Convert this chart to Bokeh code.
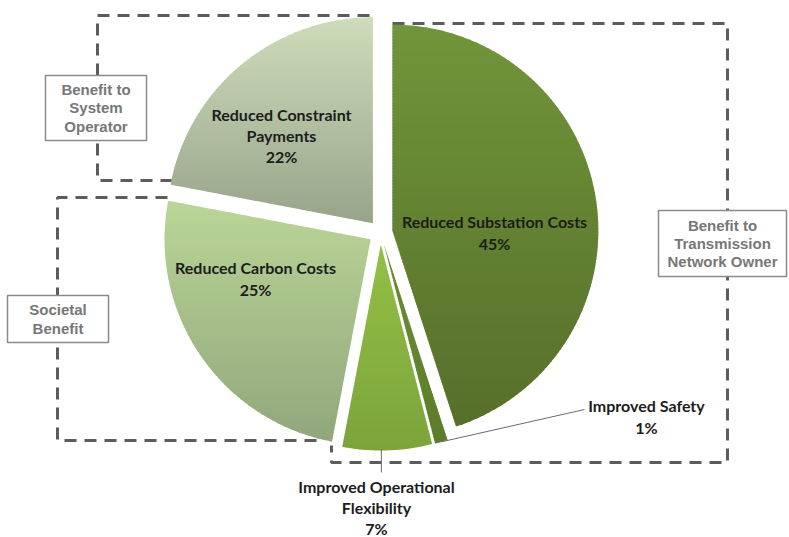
import numpy as np
from bokeh.plotting import figure
from bokeh.models import Range1d
from bokeh.core.properties import value
from bokeh.embed import file_html
from bokeh.resources import INLINE

# ---------------- data ----------------
categories = ["Reduced Substation Costs", "Improved Safety",
              "Improved Operational\nFlexibility", "Reduced Carbon Costs",
              "Reduced Constraint\nPayments"]
shares = [45, 1, 7, 25, 22]
group_labels = ["Benefit to\nSystem\nOperator", "Societal\nBenefit",
                "Benefit to\nTransmission\nNetwork Owner"]

# ---------------- styles ----------------
top_colors = ["#71953a", "#6a8e31", "#93c046", "#bad597", "#cedcba"]
bot_colors = ["#566f2a", "#5d7c2b", "#7ca43a", "#91a77c", "#97a48a"]
label_pos = [(494, 232), (646, 416), (376, 507), (255, 278), (281, 135)]
group_boxes = [(45, 146, 75, 140), (7, 108, 295, 342), (658, 786, 210, 276)]

W, H = 789, 537


def Y(yp):
    return H - np.asarray(yp, dtype=float)


p = figure(width=W, height=H, x_range=Range1d(0, W), y_range=Range1d(0, H),
           output_backend="svg", toolbar_location=None, min_border=0)
p.axis.visible = False
p.grid.visible = False
p.outline_line_color = None
p.background_fill_color = "white"
p.border_fill_color = "white"

# ---------------- dashed grouping frames ----------------
dash_xs = [[172, 97, 97, 373], [167, 57, 57, 320], [392, 727, 727, 331, 331]]
dash_ys = [[180, 180, 15, 15], [197, 197, 440, 440], [23, 23, 462, 462, 445]]
p.multi_line(dash_xs, [list(Y(v)) for v in dash_ys], line_dash="12 8",
             line_width=3, line_color="#5c5c5c")

# ---------------- pie ----------------
CX, CY, R, EXPL = 380.0, 232.0, 206.0, 12.0


def direction(theta_deg):
    t = np.radians(theta_deg)
    return np.sin(t), -np.cos(t)  # page coords, clockwise from top


def clip(poly, y0, keep_above):
    out = []
    n = len(poly)
    for i in range(n):
        a = poly[i]
        b = poly[(i + 1) % n]
        ina = (a[1] >= y0) if keep_above else (a[1] <= y0)
        inb = (b[1] >= y0) if keep_above else (b[1] <= y0)
        if ina:
            out.append(a)
        if ina != inb:
            t = (y0 - a[1]) / (b[1] - a[1])
            out.append((a[0] + t * (b[0] - a[0]), y0))
    return out


def hex2rgb(h):
    return np.array([int(h[i:i + 2], 16) for i in (1, 3, 5)], dtype=float)


cum = np.concatenate([[0], np.cumsum(shares)])
total = cum[-1]
xs_all, ys_all, cols_all = [], [], []
mids = []
for i in range(len(shares)):
    a0 = cum[i] / total * 360.0
    a1 = cum[i + 1] / total * 360.0
    am = (a0 + a1) / 2
    dx, dy = direction(am)
    ax, ay = CX + EXPL * dx, CY + EXPL * dy
    mids.append((ax, ay, am))
    th = np.linspace(a0, a1, 80)
    poly = [(ax, ay)] + [(ax + R * np.sin(np.radians(t)), ay - R * np.cos(np.radians(t))) for t in th]
    ymin = min(q[1] for q in poly)
    ymax = max(q[1] for q in poly)
    c0, c1 = hex2rgb(top_colors[i]), hex2rgb(bot_colors[i])
    step = 3.0
    y = ymin
    while y < ymax:
        part = clip(clip(poly, y, True), y + step + 0.8, False)
        if len(part) >= 3:
            f = min(1.0, max(0.0, (y + step / 2 - ymin) / (ymax - ymin)))
            c = c0 + (c1 - c0) * f
            xs_all.append([q[0] for q in part])
            ys_all.append(list(Y([q[1] for q in part])))
            cols_all.append("#%02x%02x%02x" % tuple(int(round(v)) for v in c))
        y += step

p.patches(xs_all, ys_all, fill_color=cols_all, line_color=None)

# ---------------- leader lines ----------------
ax, ay, am = mids[1]
dx, dy = direction(am)
sx, sy = ax + R * dx, ay + R * dy
p.line([sx, 584], list(Y([sy, 409])), line_color="#6b6b6b", line_width=1)

ax, ay, am = mids[2]
dx, dy = direction(am)
fx, fy = ax + R * dx, ay + R * dy
p.line([fx - 6, fx - 6], list(Y([fy - 1, 472])), line_color="#6b6b6b", line_width=1)

# ---------------- slice labels ----------------
texts = [f"{c}\n{s}%" for c, s in zip(categories, shares)]
p.text(x=[q[0] for q in label_pos], y=list(Y([q[1] for q in label_pos])), text=texts,
       text_font=value("Lato"), text_font_style="bold", text_font_size="16px",
       text_align="center", text_baseline="middle", text_line_height=1.12,
       text_color="#1c1c1c")

# ---------------- group label boxes ----------------
p.quad(left=[b[0] for b in group_boxes], right=[b[1] for b in group_boxes],
       top=list(Y([b[2] for b in group_boxes])), bottom=list(Y([b[3] for b in group_boxes])),
       fill_color="white", line_color="#8a8a8a", line_width=1.5)
gx = [(b[0] + b[1]) / 2 for b in group_boxes]
gy = list(Y([(b[2] + b[3]) / 2 for b in group_boxes]))
p.text(x=gx, y=gy, text=group_labels, text_font=value("Liberation Sans"),
       text_font_style="bold", text_font_size="15px", text_align="center",
       text_baseline="middle", text_line_height=1.07, text_color="#777777")

open("out.html", "w").write(file_html(p, INLINE))
